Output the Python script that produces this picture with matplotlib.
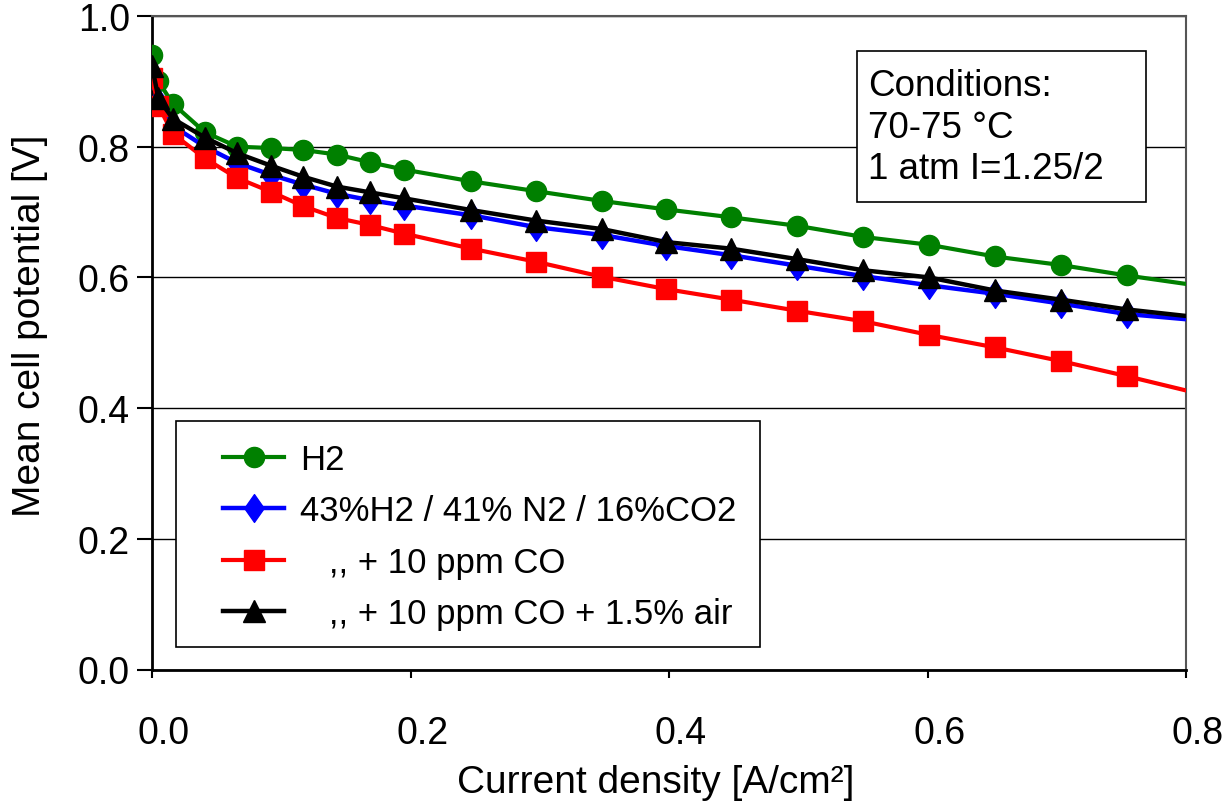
import numpy as np
import matplotlib
matplotlib.use("Agg")
import matplotlib.pyplot as plt
import matplotlib.transforms as mtransforms
from matplotlib.path import Path
from matplotlib.patches import Rectangle

plt.rcParams["font.family"] = ["Liberation Sans", "DejaVu Sans"]

# current density [A/cm2]; last value is the line end without marker
current = [0.0, 0.005, 0.016, 0.041, 0.066, 0.092, 0.117, 0.143, 0.169, 0.195,
           0.247, 0.297, 0.348, 0.398, 0.448, 0.499, 0.550, 0.601, 0.652, 0.703,
           0.754, 0.80]

h2 = [0.940, 0.900, 0.866, 0.822, 0.800, 0.798, 0.795, 0.788, 0.776, 0.765,
      0.747, 0.732, 0.717, 0.704, 0.692, 0.679, 0.662, 0.650, 0.632, 0.619,
      0.603, 0.590]
reformate = [0.910, 0.868, 0.832, 0.800, 0.775, 0.757, 0.742, 0.728, 0.718, 0.710,
             0.695, 0.677, 0.665, 0.648, 0.634, 0.618, 0.602, 0.588, 0.575, 0.560,
             0.544, 0.536]
reformate_co = [0.905, 0.863, 0.820, 0.782, 0.752, 0.731, 0.709, 0.691, 0.680, 0.667,
                0.644, 0.624, 0.601, 0.582, 0.566, 0.549, 0.533, 0.512, 0.493, 0.472,
                0.449, 0.427]
reformate_co_air = [0.923, 0.874, 0.843, 0.814, 0.790, 0.771, 0.754, 0.739, 0.730, 0.721,
                    0.703, 0.687, 0.674, 0.654, 0.644, 0.628, 0.611, 0.600, 0.580, 0.566,
                    0.551, 0.541]

labels = ["H2",
          "43%H2 / 41% N2 / 16%CO2",
          "   ,, + 10 ppm CO",
          "   ,, + 10 ppm CO + 1.5% air"]

conditions = "Conditions:\n70-75 °C\n1 atm I=1.25/2"

W, H = 1227, 803
fig = plt.figure(figsize=(W / 100, H / 100), dpi=100)
ax = fig.add_axes([152 / W, 1 - 670.5 / H, (1186 - 152) / W, (670.5 - 17) / H])

# Excel-like tall diamond
diamond = Path([(0, 1), (0.7, 0), (0, -1), (-0.7, 0), (0, 1)],
               [Path.MOVETO, Path.LINETO, Path.LINETO, Path.LINETO, Path.CLOSEPOLY])

mark = slice(0, len(current) - 1)
ax.plot(current, h2, "-", marker="o", color="#008000", lw=3, ms=14.5, markevery=mark,
        label=labels[0], zorder=3)
ax.plot(current, reformate, "-", marker=diamond, color="#0000FF", lw=3.2, ms=20,
        markevery=mark, label=labels[1], zorder=4)
ax.plot(current, reformate_co, "-", marker="s", color="#FF0000", lw=3, ms=15,
        markevery=mark, label=labels[2], zorder=5)
ax.plot(current, reformate_co_air, "-", marker="^", color="black", lw=3.2, ms=16,
        markevery=mark, label=labels[3], zorder=6)

ax.set_xlim(0, 0.8)
ax.set_ylim(0, 1.0)
xt = np.arange(0, 0.81, 0.2)
yt = np.arange(0, 1.01, 0.2)
ax.set_xticks(xt)
ax.set_yticks(yt)
ax.set_xticklabels([f"{v:.1f}" for v in xt])
ax.set_yticklabels([f"{v:.1f}" for v in yt])
ax.tick_params(axis="y", direction="out", length=11, width=1.5, pad=5, labelsize=27)
ax.tick_params(axis="x", direction="out", length=6, width=1.5, pad=27, labelsize=27)
shift = mtransforms.ScaledTranslation(0.12, 0, fig.dpi_scale_trans)
for lab in ax.get_xticklabels():
    lab.set_transform(lab.get_transform() + shift)

ax.grid(axis="y", color="black", lw=1)
ax.set_axisbelow(True)
for side in ["left", "bottom"]:
    ax.spines[side].set_linewidth(2)
    ax.spines[side].set_color("black")
for side in ["top", "right"]:
    ax.spines[side].set_linewidth(1.5)
    ax.spines[side].set_color("#555555")

ax.set_xlabel("Current density [A/cm²]", fontsize=28)
ax.xaxis.set_label_coords((656 - 152) / 1034, (670.5 - 793) / 653.5)
ax.xaxis.label.set_va("baseline")
ax.set_ylabel("Mean cell potential [V]", fontsize=28)
ax.yaxis.set_label_coords((40 - 152) / 1034, (670.5 - 326) / 653.5)
ax.yaxis.label.set_va("baseline")

# legend: frame drawn separately to get Excel-like padding
ax.add_patch(Rectangle((176 / W, 1 - 648 / H), (760 - 176) / W, (648 - 422) / H,
                       transform=fig.transFigure, fc="white", ec="black",
                       lw=1.2, zorder=7, clip_on=False))
leg = ax.legend(loc="upper left", bbox_to_anchor=(223 / W, 1 - 444 / H),
                bbox_transform=fig.transFigure, fontsize=25, frameon=False,
                borderaxespad=0, borderpad=0, handlelength=1.76, handletextpad=0.46,
                labelspacing=0.53)
leg.set_zorder(8)

# conditions box
ax.add_patch(Rectangle((857 / W, 1 - 203 / H), (1146 - 857) / W, (203 - 52) / H,
                       transform=fig.transFigure, fc="white", ec="black",
                       lw=1.2, zorder=7, clip_on=False))
ax.text(868 / W, 1 - 128 / H, conditions, transform=fig.transFigure,
        fontsize=26.5, va="center", ha="left", linespacing=1.25, zorder=8)

fig.savefig("out.png", dpi=100)
